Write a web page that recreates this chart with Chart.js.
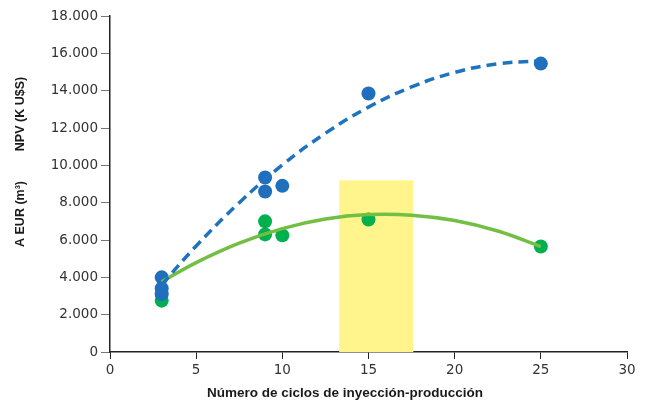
<!DOCTYPE html>
<html>
<head>
<meta charset="utf-8">
<script src="https://cdn.jsdelivr.net/npm/chart.js@4.4.1/dist/chart.umd.min.js"></script>
<style>
  html, body { margin: 0; padding: 0; background: #fff; }
  #wrap { width: 647px; height: 403px; }
</style>
</head>
<body>
<div id="wrap"><canvas id="ciclosChart"></canvas></div>
<script>
// puntos medidos
const npvX = [3, 3, 3, 9, 9, 10, 15, 25];
const npvY = [4000, 3400, 3100, 9350, 8600, 8900, 13850, 15450];
const eurX = [3, 9, 9, 10, 15, 25];
const eurY = [2750, 7000, 6300, 6250, 7100, 5650];

// curvas de tendencia
const trendX = [3, 5, 7.5, 10, 12.5, 15, 17.5, 20, 22.5, 25];
const npvTrend = [3600, 5680, 8000, 10020, 11720, 13120, 14200, 14980, 15440, 15600];
const eurTrend = [3760, 4790, 5830, 6610, 7120, 7360, 7330, 7040, 6480, 5650];

// zona optima
const optimoX = [13.3, 17.6];
const optimoTop = 9200;

const xTicks = [0, 5, 10, 15, 20, 25, 30];

const toPts = (xs, ys) => xs.map((x, i) => ({ x: x, y: ys[i] }));

const textos = {
    id: "textos",
    beforeDatasetsDraw(chart) {
        const { ctx, scales } = chart;
        const x0 = scales.x.getPixelForValue(optimoX[0]);
        const x1 = scales.x.getPixelForValue(optimoX[1]);
        const yt = scales.y.getPixelForValue(optimoTop);
        const yb = scales.y.getPixelForValue(0);
        ctx.save();
        ctx.fillStyle = "#fff58c";
        ctx.fillRect(x0, yt, x1 - x0, yb - yt);
        ctx.restore();
    },
    afterDraw(chart) {
        const ctx = chart.ctx;
        ctx.save();
        ctx.fillStyle = "#1a1a1a";
        ctx.textAlign = "center";
        ctx.textBaseline = "middle";
        ctx.font = "bold 13.5px 'Liberation Sans', Arial, sans-serif";
        ctx.fillText("Número de ciclos de inyección-producción", 345, 393);
        ctx.font = "bold 12.5px 'Liberation Sans', Arial, sans-serif";
        ctx.translate(21, 0);
        ctx.rotate(-Math.PI / 2);
        ctx.fillText("NPV (K U$S)", -114, 0);
        ctx.fillText("A EUR (m³)", -214, 0);
        ctx.restore();
    }
};

const fmt = v => String(v).replace(/\B(?=(\d{3})+(?!\d))/g, ".");

new Chart(document.getElementById("ciclosChart").getContext("2d"), {
    type: "scatter",
    data: {
        datasets: [
            {
                type: "line",
                data: toPts(trendX, npvTrend),
                borderColor: "#1f73be",
                borderWidth: 3.5,
                borderDash: [10, 6],
                pointRadius: 0,
                tension: 0.4,
                fill: false,
            },
            {
                type: "line",
                data: toPts(trendX, eurTrend),
                borderColor: "#72bf44",
                borderWidth: 3.5,
                pointRadius: 0,
                tension: 0.4,
                fill: false,
            },
            {
                data: toPts(npvX, npvY),
                backgroundColor: "#1f6fbd",
                borderWidth: 0,
                pointRadius: 7,
            },
            {
                data: toPts(eurX, eurY),
                backgroundColor: "#00b04f",
                borderWidth: 0,
                pointRadius: 7,
            },
        ],
    },
    options: {
        responsive: true,
        maintainAspectRatio: false,
        animation: false,
        layout: { padding: { top: 16, right: 20, left: 0, bottom: 0 } },
        plugins: { legend: { display: false }, tooltip: { enabled: false } },
        scales: {
            x: {
                type: "linear",
                min: 0,
                max: 30,
                afterBuildTicks: s => { s.ticks = xTicks.map(v => ({ value: v })); },
                afterFit: s => { s.height = 51; },
                grid: { drawOnChartArea: false, drawTicks: true, tickLength: 7, color: "#222" },
                border: { color: "#222", width: 1.5 },
                ticks: { color: "#333", font: { family: "'DejaVu Sans'", size: 13.5 }, padding: 3, maxRotation: 0 },
            },
            y: {
                min: 0,
                max: 18000,
                afterFit: s => { s.width = 110; },
                grid: { drawOnChartArea: false, drawTicks: true, tickLength: 9, color: "#777" },
                border: { color: "#222", width: 1.5 },
                ticks: { stepSize: 2000, color: "#333", font: { family: "'DejaVu Sans'", size: 13.5 }, padding: 3, callback: v => fmt(v) },
            },
        },
    },
    plugins: [textos],
});
</script>
</body>
</html>
